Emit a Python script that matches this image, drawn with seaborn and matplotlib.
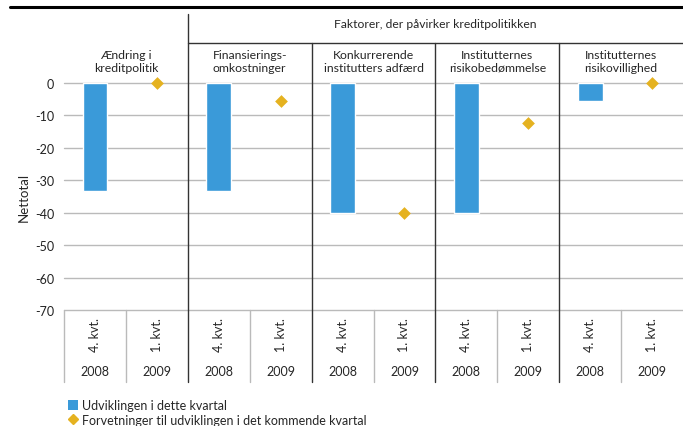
import numpy as np
import pandas as pd
import matplotlib.pyplot as plt
import matplotlib.transforms as mtransforms
from matplotlib.lines import Line2D
from matplotlib.patches import Patch
import seaborn as sns

# values (nettotal)
groups = ["Ændring i\nkreditpolitik", "Finansierings-\nomkostninger",
          "Konkurrerende\ninstitutters adfærd", "Institutternes\nrisikobedømmelse",
          "Institutternes\nrisikovillighed"]
header = "Faktorer, der påvirker kreditpolitikken"
quarters = ["4. kvt.", "1. kvt."]
years = ["2008", "2009"]
current = [-33.3, -33.3, -40.0, -40.0, -5.6]     # Udviklingen i dette kvartal
expected = [0.0, -5.6, -40.0, -12.2, 0.0]        # Forventninger til næste kvartal
yticks = [0, -10, -20, -30, -40, -50, -60, -70]

label_bar = "Udviklingen i dette kvartal"
label_dia = "Forvetninger til udviklingen i det kommende kvartal"

blue = "#3A9AD9"
gold = "#E5B220"
grid_col = "#BABABA"

sns.set_style("white")
plt.rcParams['font.family'] = ['Lato', 'DejaVu Sans']

slots = [f"s{i}" for i in range(10)]
bar_df = pd.DataFrame({"slot": slots[0::2], "value": current})
dia_df = pd.DataFrame({"slot": slots[1::2], "value": expected})

fig = plt.figure(figsize=(6.83, 4.27), dpi=100)
W, H = 683, 427
x0, x1, ytop, ybot = 64, 683, 84, 311
ax = fig.add_axes([x0 / W, (H - ybot) / H, (x1 - x0) / W, (ybot - ytop) / H])

sns.barplot(data=bar_df, x="slot", y="value", order=slots, color=blue,
            width=0.4, saturation=1, ax=ax, zorder=3)
sns.stripplot(data=dia_df, x="slot", y="value", order=slots, color=gold,
              marker="D", size=6.5, jitter=False, ax=ax, zorder=4)
for c in ax.collections:
    c.set_clip_on(False)

ax.set_ylim(-70, 0)
ax.set_xlim(-0.5, 9.5)
ax.set_yticks(yticks)
ax.set_yticklabels([str(t) for t in yticks], fontsize=9, color="#222222")
ax.tick_params(axis="y", length=0, pad=7)
ax.set_xticks([])
ax.set_xlabel("")
ax.set_ylabel("Nettotal", fontsize=9.5, labelpad=4)
for s in ax.spines.values():
    s.set_visible(False)
for t in yticks:
    ax.axhline(t, color=grid_col, lw=1, zorder=1, clip_on=False)

# axes-y positions of decorations (pixel -> axes fraction)
def ay(py):
    return (ybot - py) / (ybot - ytop)

tr = mtransforms.blended_transform_factory(ax.transData, ax.transAxes)

# category boxes under the axis
for i in range(1, 10, 2):
    ax.plot([i - 0.5, i - 0.5], [0, ay(383)], color=grid_col, lw=1,
            transform=tr, clip_on=False)
ax.plot([-0.5, -0.5], [0, ay(383)], color=grid_col, lw=1, transform=tr, clip_on=False)

# group dividers
for k, i in enumerate(range(2, 10, 2)):
    top = ay(15) if k == 0 else ay(44)
    ax.plot([i - 0.5, i - 0.5], [ay(383), top], color="#333333", lw=1,
            transform=tr, clip_on=False, zorder=5)
ax.plot([1.5, 9.5], [ay(44), ay(44)], color="#333333", lw=1,
        transform=tr, clip_on=False)

ax.text(5.5, ay(25), header, transform=tr, ha="center", va="center", fontsize=8.7)
for g, name in enumerate(groups):
    ax.text(2 * g + 0.5, ay(62), name, transform=tr, ha="center", va="center",
            fontsize=8.8, linespacing=1.15)

for i in range(10):
    ax.text(i, ay(335), quarters[i % 2], transform=tr, ha="center", va="center",
            rotation=90, fontsize=9)
    ax.text(i, ay(372), years[i % 2], transform=tr, ha="center", va="center",
            fontsize=9)

# top rule
fig.add_artist(Line2D([10 / W, 1], [(H - 8) / H, (H - 8) / H], color="black", lw=2.2))

handles = [Patch(facecolor=blue, edgecolor="none"),
           Line2D([], [], marker="D", color=gold, ls="none", markersize=5)]
fig.legend(handles, [label_bar, label_dia], loc="upper left",
           bbox_to_anchor=(62 / W, (H - 394) / H), frameon=False, fontsize=9,
           handlelength=0.8, handletextpad=0.3, borderpad=0, labelspacing=0.2,
           handleheight=0.8)

fig.savefig("out.png", dpi=100)
